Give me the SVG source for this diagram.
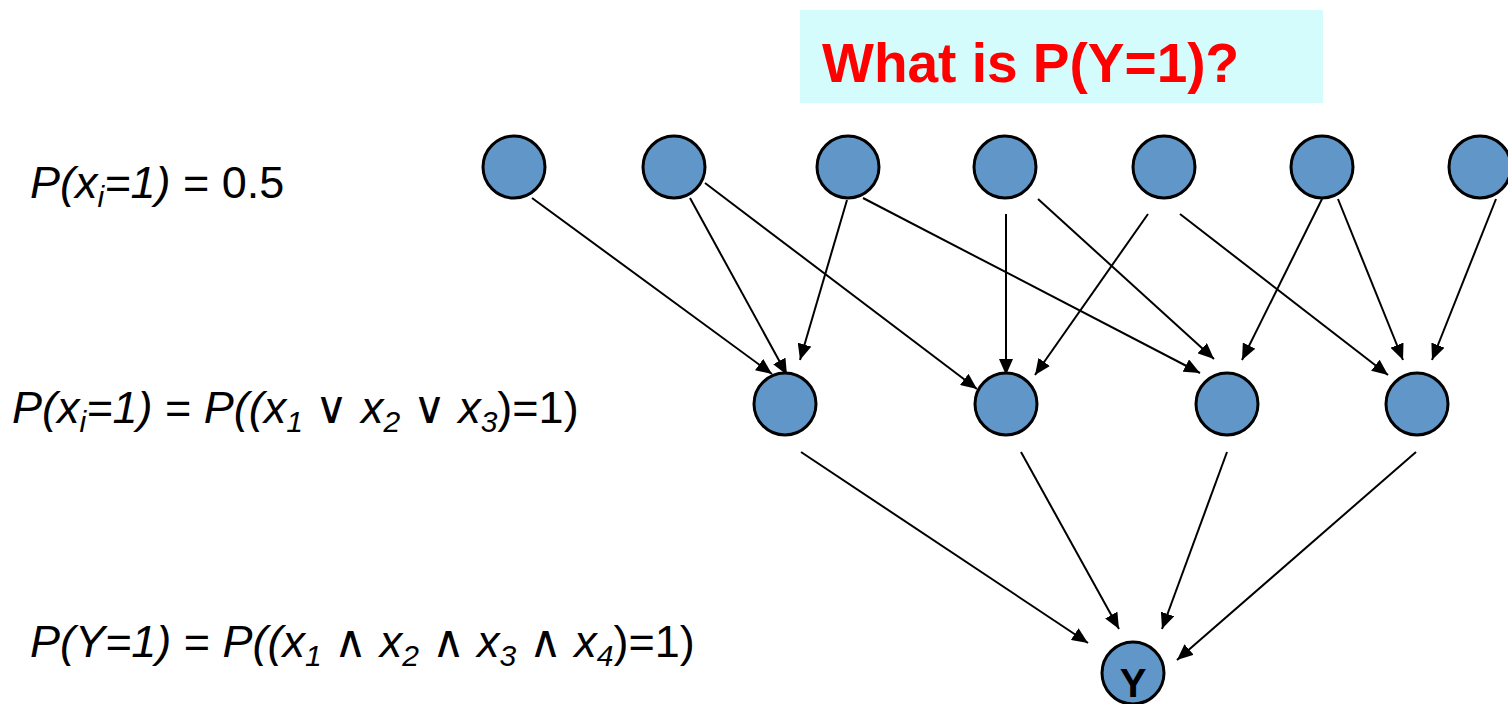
<svg xmlns="http://www.w3.org/2000/svg" width="1508" height="704" viewBox="0 0 1508 704">
<defs>
<style>
.node{fill:#6096C8;stroke:#000;stroke-width:3}
.edge{stroke:#000;stroke-width:2;fill:none;marker-end:url(#arr)}
.lbl{font-family:"Liberation Sans",Arial,sans-serif;font-size:45px;fill:#000}
.it{font-style:italic}
.title{font-family:"Liberation Sans",Arial,sans-serif;font-size:55px;font-weight:bold;fill:#FF0000}
.ylbl{font-family:"Liberation Sans",Arial,sans-serif;font-size:40px;font-weight:bold;fill:#000}
</style>
<marker id="arr" markerUnits="userSpaceOnUse" markerWidth="16" markerHeight="14" refX="16" refY="7" orient="auto">
<path d="M0,0 L16,7 L0,14 z" fill="#000"/>
</marker>
</defs>
<rect x="0" y="0" width="1508" height="704" fill="#fff"/>
<g id="title">
<rect x="800" y="10" width="523" height="93" fill="#D4FCFC"/>
<text class="title" x="822" y="82">What is P(Y=1)?</text>
</g>
<g id="labels">
<text class="lbl" x="30" y="198"><tspan class="it">P(x</tspan><tspan class="it" font-size="30" dy="9">i</tspan><tspan class="it" dy="-9">=1)</tspan> = 0.5</text>
<text class="lbl" x="12" y="423"><tspan class="it">P(x</tspan><tspan class="it" font-size="30" dy="9">i</tspan><tspan class="it" dy="-9">=1)</tspan> = <tspan class="it">P((x</tspan><tspan class="it" font-size="30" dy="9">1</tspan><tspan dy="-9"> ∨ </tspan><tspan class="it">x</tspan><tspan class="it" font-size="30" dy="9">2</tspan><tspan dy="-9"> ∨ </tspan><tspan class="it">x</tspan><tspan class="it" font-size="30" dy="9">3</tspan><tspan dy="-9">)=1)</tspan></text>
<text class="lbl" x="30" y="657"><tspan class="it">P(Y=1)</tspan> = <tspan class="it">P((x</tspan><tspan class="it" font-size="30" dy="9">1</tspan><tspan dy="-9"> ∧ </tspan><tspan class="it">x</tspan><tspan class="it" font-size="30" dy="9">2</tspan><tspan dy="-9"> ∧ </tspan><tspan class="it">x</tspan><tspan class="it" font-size="30" dy="9">3</tspan><tspan dy="-9"> ∧ </tspan><tspan class="it">x</tspan><tspan class="it" font-size="30" dy="9">4</tspan><tspan dy="-9">)=1)</tspan></text>
</g>
<g id="connectors">
<line class="edge" x1="532" y1="198" x2="772" y2="374"/>
<line class="edge" x1="690" y1="198" x2="787" y2="375"/>
<line class="edge" x1="705" y1="183" x2="977" y2="389"/>
<line class="edge" x1="847" y1="200" x2="800" y2="360"/>
<line class="edge" x1="863" y1="198" x2="1200" y2="373"/>
<line class="edge" x1="1006" y1="214" x2="1006" y2="375"/>
<line class="edge" x1="1038" y1="199" x2="1214" y2="359"/>
<line class="edge" x1="1148" y1="214" x2="1035" y2="375"/>
<line class="edge" x1="1180" y1="214" x2="1388" y2="375"/>
<line class="edge" x1="1322" y1="199" x2="1242" y2="360"/>
<line class="edge" x1="1338" y1="199" x2="1403" y2="360"/>
<line class="edge" x1="1496" y1="199" x2="1432" y2="360"/>
<line class="edge" x1="801" y1="452" x2="1088" y2="643"/>
<line class="edge" x1="1021" y1="452" x2="1119" y2="629"/>
<line class="edge" x1="1227" y1="452" x2="1162" y2="629"/>
<line class="edge" x1="1416" y1="452" x2="1177" y2="660"/>
</g>
<g id="x1"><circle class="node" cx="514" cy="167" r="31"/></g>
<g id="x2"><circle class="node" cx="674" cy="167" r="31"/></g>
<g id="x3"><circle class="node" cx="848" cy="167" r="31"/></g>
<g id="x4"><circle class="node" cx="1005" cy="167" r="31"/></g>
<g id="x5"><circle class="node" cx="1164" cy="167" r="31"/></g>
<g id="x6"><circle class="node" cx="1322" cy="167" r="31"/></g>
<g id="x7"><circle class="node" cx="1480" cy="167" r="31"/></g>
<g id="h1"><circle class="node" cx="785" cy="404" r="31"/></g>
<g id="h2"><circle class="node" cx="1006" cy="404" r="31"/></g>
<g id="h3"><circle class="node" cx="1227" cy="404" r="31"/></g>
<g id="h4"><circle class="node" cx="1417" cy="404" r="31"/></g>
<g id="y"><circle class="node" cx="1133" cy="673" r="31"/><text class="ylbl" x="1133" y="697" text-anchor="middle">Y</text></g>
</svg>
